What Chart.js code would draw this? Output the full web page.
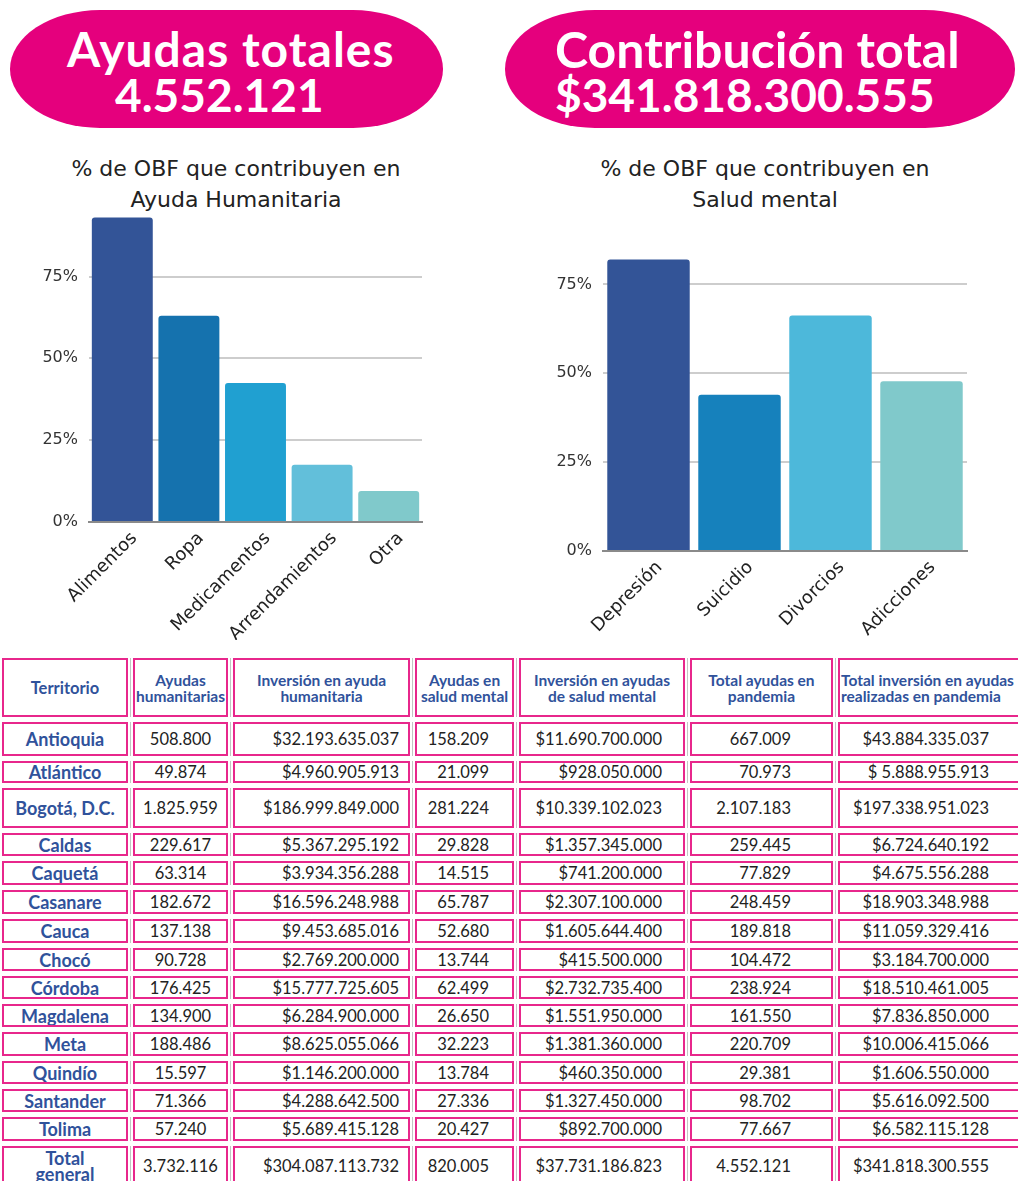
<!DOCTYPE html>
<html lang="es">
<head>
<meta charset="utf-8">
<title>Ayudas y contribución OBF</title>
<script src="https://cdn.jsdelivr.net/npm/chart.js@4.4.1/dist/chart.umd.min.js"></script>
<style>
  html, body { margin: 0; padding: 0; background: #fff; }
  body { width: 1018px; height: 1181px; position: relative; overflow: hidden; font-family: Lato, "DejaVu Sans", sans-serif; }
  .pill { position: absolute; top: 10px; height: 118px; background: #e5007d; border-radius: 90px / 59px; }
  .pill div { position: absolute; color: #fff; font-weight: bold; white-space: nowrap; }
  .ctitle { position: absolute; top: 153px; width: 420px; text-align: center; font-family: "DejaVu Sans", sans-serif;
            font-size: 22px; line-height: 31px; color: #222; }
  canvas { position: absolute; }
  table { position: absolute; left: -3px; top: 653px; width: 1046px; border-collapse: separate; border-spacing: 5px; table-layout: fixed; }
  td { border: 2px solid #e8278c; padding: 0; box-sizing: border-box; font-size: 16.5px; line-height: 1.1; color: #222;
       white-space: nowrap; overflow: hidden;
       box-shadow: 2px 0 0 0 #fff, 3px 0 0 0 #c4c4c4, -2px 0 0 0 #fff, -3px 0 0 0 #c4c4c4; }
  td.terr { font-weight: bold; color: #30529b; text-align: center; font-size: 18px; line-height: 16px; }
  tr.head td { font-weight: bold; color: #30529b; font-size: 15.5px; line-height: 16px; text-align: center; }
  tr.head td.terr { font-size: 16.5px; }
</style>
</head>
<body>

<div class="pill" style="left:10px; width:433px;">
  <div style="left:57px; top:15px; font-size:48px; line-height:48px; letter-spacing:1px;">Ayudas totales</div>
  <div style="left:105px; top:62px; font-size:46px; line-height:46px;">4.552.121</div>
</div>
<div class="pill" style="left:505px; width:510px;">
  <div style="left:50px; top:14px; font-size:50px; line-height:50px;">Contribución total</div>
  <div style="left:50px; top:62px; font-size:46px; line-height:46px;">$341.818.300.555</div>
</div>

<div class="ctitle" style="left:26px;">% de OBF que contribuyen en<br>Ayuda Humanitaria</div>
<div class="ctitle" style="left:555px;">% de OBF que contribuyen en<br>Salud mental</div>

<canvas id="chartAyuda" width="430" height="444" style="left:0; top:196px;"></canvas>
<canvas id="chartSalud" width="498" height="444" style="left:520px; top:196px;"></canvas>

<table id="tabla"></table>

<script>
// Datos de las gráficas
const ayudaLabels = ['Alimentos', 'Ropa', 'Medicamentos', 'Arrendamientos', 'Otra'];
const ayudaValues = [93, 63, 42.5, 17.5, 9.5];
const ayudaColors = ['#335497', '#1572ae', '#20a0d1', '#62bfda', '#80c9cb'];

const saludLabels = ['Depresión', 'Suicidio', 'Divorcios', 'Adicciones'];
const saludValues = [82, 44, 66.3, 47.8];
const saludColors = ['#335497', '#1681bc', '#4db8da', '#80c9cb'];

const yTicks = [0, 25, 50, 75];

// Datos de la tabla
const encabezados = ['Territorio', 'Ayudas\nhumanitarias', 'Inversión en ayuda\nhumanitaria', 'Ayudas en\nsalud mental',
  'Inversión en ayudas\nde salud mental', 'Total ayudas en\npandemia', 'Total inversión en ayudas\nrealizadas en pandemia'];
const territorios = ['Antioquia', 'Atlántico', 'Bogotá, D.C.', 'Caldas', 'Caquetá', 'Casanare', 'Cauca', 'Chocó',
  'Córdoba', 'Magdalena', 'Meta', 'Quindío', 'Santander', 'Tolima', 'Total\ngeneral'];
const ayudasHum = ['508.800', '49.874', '1.825.959', '229.617', '63.314', '182.672', '137.138', '90.728',
  '176.425', '134.900', '188.486', '15.597', '71.366', '57.240', '3.732.116'];
const invHum = ['$32.193.635.037', '$4.960.905.913', '$186.999.849.000', '$5.367.295.192', '$3.934.356.288',
  '$16.596.248.988', '$9.453.685.016', '$2.769.200.000', '$15.777.725.605', '$6.284.900.000', '$8.625.055.066',
  '$1.146.200.000', '$4.288.642.500', '$5.689.415.128', '$304.087.113.732'];
const ayudasSalud = ['158.209', '21.099', '281.224', '29.828', '14.515', '65.787', '52.680', '13.744',
  '62.499', '26.650', '32.223', '13.784', '27.336', '20.427', '820.005'];
const invSalud = ['$11.690.700.000', '$928.050.000', '$10.339.102.023', '$1.357.345.000', '$741.200.000',
  '$2.307.100.000', '$1.605.644.400', '$415.500.000', '$2.732.735.400', '$1.551.950.000', '$1.381.360.000',
  '$460.350.000', '$1.327.450.000', '$892.700.000', '$37.731.186.823'];
const totalAyudas = ['667.009', '70.973', '2.107.183', '259.445', '77.829', '248.459', '189.818', '104.472',
  '238.924', '161.550', '220.709', '29.381', '98.702', '77.667', '4.552.121'];
const totalInv = ['$43.884.335.037', '$ 5.888.955.913', '$197.338.951.023', '$6.724.640.192', '$4.675.556.288',
  '$18.903.348.988', '$11.059.329.416', '$3.184.700.000', '$18.510.461.005', '$7.836.850.000', '$10.006.415.066',
  '$1.606.550.000', '$5.616.092.500', '$6.582.115.128', '$341.818.300.555'];

function barChart(id, labels, values, colors, yMax, yWidth, xHeight, padRight, barPct, labelOffset) {
  return new Chart(document.getElementById(id), {
    type: 'bar',
    data: {
      labels,
      datasets: [{
        data: values,
        backgroundColor: colors,
        borderRadius: { topLeft: 3, topRight: 3 },
        borderSkipped: 'bottom',
        barPercentage: barPct,
        categoryPercentage: 1
      }]
    },
    options: {
      responsive: false,
      animation: false,
      devicePixelRatio: 1,
      layout: { padding: { top: 20, right: padRight, left: 0, bottom: 0 } },
      plugins: { legend: { display: false }, tooltip: { enabled: false } },
      scales: {
        y: {
          min: 0, max: yMax,
          afterBuildTicks: s => { s.ticks = yTicks.map(v => ({ value: v })); },
          afterFit: s => { s.width = yWidth; },
          ticks: { callback: v => v + '%', color: '#333', padding: 11,
                   font: { family: 'DejaVu Sans', size: 16 } },
          grid: { color: '#cdcdcd', lineWidth: 2, drawTicks: false },
          border: { display: false }
        },
        x: {
          afterFit: s => { s.height = xHeight; },
          ticks: { minRotation: 45, maxRotation: 45, color: '#222', padding: -2, labelOffset,
                   font: { family: 'DejaVu Sans', size: 18 } },
          grid: { display: false },
          border: { display: true, color: '#8a8a8a', width: 2 }
        }
      }
    }
  });
}

barChart('chartAyuda', ayudaLabels, ayudaValues, ayudaColors, 93.3, 89, 118, 8, 0.915, 12);
barChart('chartSalud', saludLabels, saludValues, saludColors, 94.1, 83, 89, 51, 0.906, 11);

// Tabla
const colWidths = [126, 95, 177, 99, 166, 143, 200];
const rowHeights = [59, 34, 22, 40, 23, 24, 24, 24, 23, 23, 23, 24, 23, 23, 24, 40];
const colAlign = ['center', 'center', 'right', 'right', 'right', 'right', 'right'];
const colPadRight = [0, 0, 9, 23, 21, 40, 47];
const br = s => s.replace('\n', '<br>');

const tabla = document.getElementById('tabla');
let html = '<colgroup>' + colWidths.map(w => `<col style="width:${w}px">`).join('') + '</colgroup>';
html += `<tr class="head" style="height:${rowHeights[0]}px">` + encabezados.map((h, i) => {
  const extra = i === 6 ? ' style="text-align:left;padding-left:1px"' : '';
  return `<td class="${i === 0 ? 'terr' : ''}"${extra}>${br(h)}</td>`;
}).join('') + '</tr>';
territorios.forEach((t, r) => {
  const vals = [ayudasHum[r], invHum[r], ayudasSalud[r], invSalud[r], totalAyudas[r], totalInv[r]];
  html += `<tr style="height:${rowHeights[r + 1]}px"><td class="terr">${br(t)}</td>`;
  html += vals.map((v, i) =>
    `<td style="text-align:${colAlign[i + 1]};padding-right:${colPadRight[i + 1]}px">${v}</td>`).join('');
  html += '</tr>';
});
tabla.innerHTML = html;
</script>
</body>
</html>
